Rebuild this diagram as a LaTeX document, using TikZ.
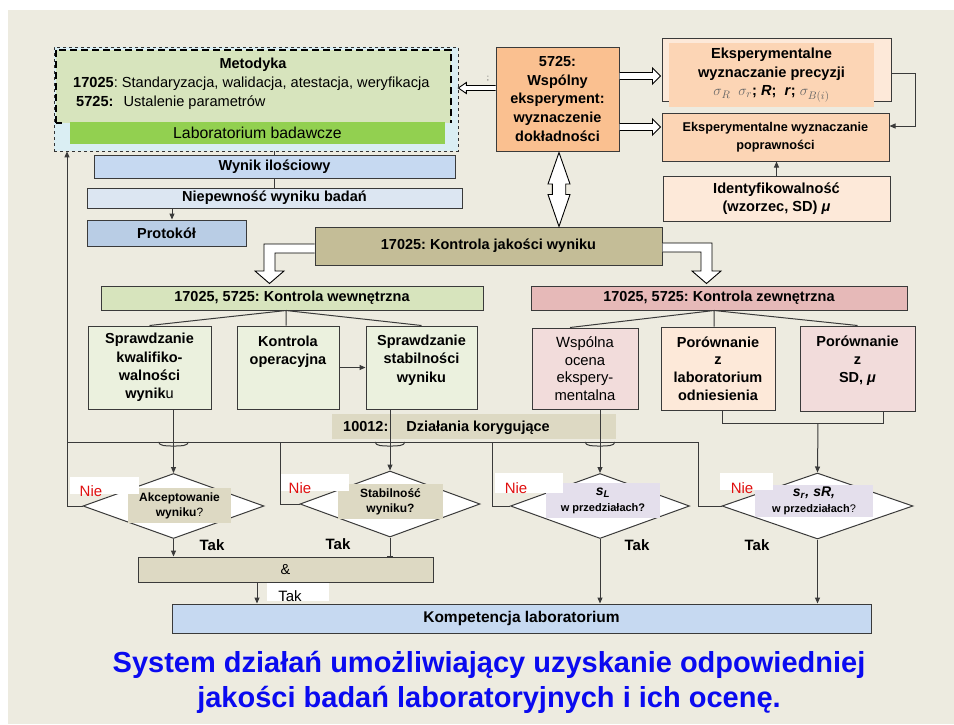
\documentclass[tikz,border=0pt]{standalone}
\usepackage{fontspec}
\setmainfont{Liberation Sans}
\frenchspacing
\usetikzlibrary{shapes.geometric,arrows.meta,calc}
\definecolor{bgc}{HTML}{EDEBE0}
\definecolor{bordc}{HTML}{3A3A3A}
\definecolor{metblue}{HTML}{DAEEF3}
\definecolor{metgreen}{HTML}{D7E4BD}
\definecolor{labgreen}{HTML}{92D050}
\definecolor{wynblue}{HTML}{C6D9F1}
\definecolor{niepblue}{HTML}{DCE6F2}
\definecolor{protblue}{HTML}{B9CDE5}
\definecolor{orng}{HTML}{FAC090}
\definecolor{peach}{HTML}{FCD5B5}
\definecolor{lpeach}{HTML}{FDE9D9}
\definecolor{tanb}{HTML}{C4BD97}
\definecolor{lgreen}{HTML}{EBF1DE}
\definecolor{pinkb}{HTML}{E6B9B8}
\definecolor{lpink}{HTML}{F2DCDB}
\definecolor{grayl}{HTML}{DDD9C3}
\definecolor{lav}{HTML}{E4DFEC}
\definecolor{titleblue}{HTML}{0A0AF0}
\definecolor{niered}{HTML}{E01010}
\begin{document}
\frenchspacing
\begin{tikzpicture}[x=1pt,y=-1pt,
  bx/.style={draw=bordc,line width=1pt,inner sep=0pt,align=center},
  txt/.style={inner sep=0pt,align=center},
  bbig/.style={font=\fontsize{14.5}{18}\selectfont\bfseries},
  rbig/.style={font=\fontsize{14.5}{18}\selectfont},
  conn/.style={draw=bordc,line width=1pt},
  arr/.style={conn,-{Triangle[length=6pt,width=5pt]}},
  hollow/.style={draw=black,line width=0.9pt,fill=white,line join=miter},
  dia/.style={diamond,draw=bordc,line width=1pt,fill=white,inner sep=0pt},
  niebox/.style={txt,fill=white},
  nietxt/.style={txt,text=niered,font=\fontsize{15}{17}\selectfont},
]
\useasboundingbox (0,0) rectangle (954,724);
\fill[white] (0,0) rectangle (954,724);
\fill[bgc] (8,10) rectangle (954,724);

% helper coordinates
\coordinate (y88) at (0,88);
\coordinate (y76) at (0,76);
\coordinate (y127) at (0,127);
\coordinate (y73) at (0,73);
\coordinate (y126) at (0,126);
\coordinate (y244) at (0,244);
\coordinate (y253) at (0,253);
\coordinate (y243) at (0,243);
\coordinate (y252) at (0,252);
\coordinate (y423) at (0,423);
\coordinate (x172) at (172,0);
\coordinate (x257) at (257,0);
\coordinate (x559) at (559,0);
\coordinate (x915) at (915,0);
\coordinate (kwx) at (286,0);
\coordinate (kzx) at (714,0);
\coordinate (x570) at (570,0);
\coordinate (x722) at (722,0);
\coordinate (x883) at (883,0);
\coordinate (x818) at (818,0);
\coordinate (hl) at (67,442);
\coordinate (hr) at (698,442);
\coordinate (c2) at (280,442);
\coordinate (c3) at (492,442);

% Metodyka
\node[bx,draw=black!80,dashed,line width=0.7pt,fill=metblue,minimum width=404pt,minimum height=104pt] (metout) at (256,99) {};
\node[txt,fill=metgreen,minimum width=395pt,minimum height=73pt] (metin) at (253.5,86.5) {};
\draw[line width=1.6pt,dash pattern=on 7pt off 4pt] (metin.south west) -- (metin.north west) -- (metin.north east) -- (metin.south east);
\draw[line width=1.6pt] (metin.south west) -- ++(6,0);
\node[txt,fill=labgreen,minimum width=375pt,minimum height=22pt,font=\fontsize{15.8}{17}\selectfont] (lab) at (257.5,133) {\raisebox{-3pt}{Laboratorium badawcze}};
\node[txt,font=\fontsize{14.5}{16}\selectfont\bfseries] (mt) at (253,65) {Metodyka};
\node[txt,font=\fontsize{14.6}{16}\selectfont,anchor=west] (ml1) at (73,84) {\textbf{17025}: Standaryzacja, walidacja, atestacja, weryfikacja};
\node[txt,font=\fontsize{14.6}{16}\selectfont,anchor=west] (ml2) at (76,103) {\textbf{5725:}\hspace{10pt}Ustalenie parametrów};

\node[bx,fill=wynblue,minimum width=361pt,minimum height=23pt,bbig] (wyn) at (274.5,166.5) {Wynik ilościowy};
\node[bx,fill=niepblue,minimum width=375pt,minimum height=20pt,bbig] (niep) at (274.5,198) {\raisebox{-4pt}{Niepewność wyniku badań}};
\node[bx,fill=protblue,minimum width=159pt,minimum height=26pt,bbig] (prot) at (166.5,233) {Protokół};

% 5725 block
\node[bx,fill=orng,minimum width=123pt,minimum height=104pt,font=\fontsize{14.5}{18.8}\selectfont\bfseries] (w5725) at (557.5,99) {5725:\\Wspólny\\eksperyment:\\wyznaczenie\\dokładności};
\node[bx,fill=lpeach,minimum width=229pt,minimum height=63pt] (precout) at (776.5,69.5) {};
\node[txt,fill=peach,minimum width=205pt,minimum height=64pt,font=\fontsize{14.6}{18.5}\selectfont\bfseries] (prec) at (771.5,75) {Eksperymentalne\\wyznaczanie precyzji\\{\fontsize{15}{18}\selectfont\color{black!60}$\sigma_R\;\;\sigma_r$}; \textit{R};\ \ \textit{r}; {\fontsize{15}{18}\selectfont\color{black!60}$\sigma_{B(i)}$}};
\node[bx,fill=peach,minimum width=227pt,minimum height=48pt,font=\fontsize{12.7}{18}\selectfont\bfseries] (popr) at (775.5,137) {Eksperymentalne wyznaczanie\\poprawności};
\node[bx,fill=lpeach,minimum width=227pt,minimum height=45pt,font=\fontsize{14.6}{18}\selectfont\bfseries] (ident) at (776.5,198.5) {Identyfikowalność\\(wzorzec, SD) \textit{μ}};
\node[txt,font=\fontsize{8}{8}\selectfont,text=black!70] (semi) at (488,79) {;};

% Kontrola
\node[bx,fill=tanb,minimum width=347pt,minimum height=38pt,bbig] (kjak) at (488.5,246) {\raisebox{3pt}{17025: Kontrola jakości wyniku}};
\node[bx,fill=metgreen,minimum width=382pt,minimum height=24pt,bbig] (kwew) at (292,298) {17025, 5725: Kontrola wewnętrzna};
\node[bx,fill=pinkb,minimum width=376pt,minimum height=24pt,bbig] (kzew) at (719,298) {17025, 5725: Kontrola zewnętrzna};

\node[bx,fill=lgreen,minimum width=123pt,minimum height=83pt,font=\fontsize{14.5}{18.3}\selectfont\bfseries] (spr1) at (149.5,367.5) {Sprawdzanie\\kwalifiko-\\walności\\wynik{\mdseries u}};
\node[bx,fill=lgreen,minimum width=102pt,minimum height=83pt,font=\fontsize{14.5}{17.5}\selectfont\bfseries] (kop) at (288,367.5) {Kontrola\\operacyjna\\\mbox{}\\\mbox{}};
\node[bx,fill=lgreen,minimum width=111pt,minimum height=83pt,font=\fontsize{14.5}{18.5}\selectfont\bfseries] (spr2) at (421.5,367.5) {Sprawdzanie\\stabilności\\wyniku\\\mbox{}};
\node[bx,fill=lpink,minimum width=106pt,minimum height=81pt,font=\fontsize{14.8}{17.7}\selectfont] (wsp) at (585,368.5) {Wspólna\\ocena\\ekspery-\\mentalna};
\node[bx,fill=lpeach,minimum width=114pt,minimum height=83pt,font=\fontsize{14.5}{17.7}\selectfont\bfseries] (plab) at (718,368.5) {Porównanie\\z\\laboratorium\\odniesienia};
\node[bx,fill=lpink,minimum width=115pt,minimum height=85pt,font=\fontsize{14.5}{18}\selectfont\bfseries] (psd) at (857.5,368.5) {Porównanie\\z\\SD, \textit{μ}\\\mbox{}};

\node[txt,fill=grayl,minimum width=284pt,minimum height=25pt] (dzial) at (474,426.5) {};
\node[txt,bbig,anchor=west] (dzt) at (343,428) {10012:\hspace{18pt}Działania korygujące};

% diamonds
\node[dia,minimum width=181pt,minimum height=65pt] (d1) at (173.5,506) {};
\node[dia,minimum width=180pt,minimum height=66pt] (d2) at (390,504) {};
\node[dia,minimum width=179pt,minimum height=65pt] (d3) at (600,506) {};
\node[dia,minimum width=191pt,minimum height=66pt] (d4) at (817.5,506) {};

\node[txt,fill=grayl,minimum width=103pt,minimum height=35pt,font=\fontsize{12}{15}\selectfont] (q1) at (179.5,505.5) {\textbf{Akceptowanie}\\\textbf{wyniku}?};
\node[txt,fill=grayl,minimum width=105pt,minimum height=35pt,font=\fontsize{12}{15}\selectfont\bfseries] (q2) at (390.5,501.5) {Stabilność\\wyniku?};
\node[txt,fill=lav,minimum width=114pt,minimum height=35pt,font=\fontsize{11}{16}\selectfont\bfseries] (q3) at (603,500.5) {{\fontsize{14}{15}\selectfont\textit{s}\textsubscript{\textit{L}}}\\w przedziałach?};
\node[txt,fill=lav,minimum width=118pt,minimum height=32pt,font=\fontsize{11}{16}\selectfont\bfseries] (q4) at (814,501) {{\fontsize{14}{15}\selectfont\textit{s}\textsubscript{\textit{r}}\textit{, sR,}}\\w przedziałach{\mdseries ?}};

\node[niebox,minimum width=69pt,minimum height=17pt] (nw1) at (104.5,485.5) {};
\node[nietxt] (nie1) at (91,491) {Nie};
\node[niebox,minimum width=69pt,minimum height=17pt] (nw2) at (314.5,482.5) {};
\node[nietxt] (nie2) at (300,488) {Nie};
\node[niebox,minimum width=68pt,minimum height=20pt] (nw3) at (529,483) {};
\node[nietxt] (nie3) at (516,488) {Nie};
\node[niebox,minimum width=53pt,minimum height=17pt] (nw4) at (746.5,481.5) {};
\node[nietxt] (nie4) at (742,488) {Nie};

\node[txt,font=\fontsize{15}{17}\selectfont\bfseries] (tak1) at (212,545) {Tak};
\node[txt,font=\fontsize{15}{17}\selectfont\bfseries] (tak2) at (338,544) {Tak};
\node[txt,font=\fontsize{15}{17}\selectfont\bfseries] (tak3) at (637,545) {Tak};
\node[txt,font=\fontsize{15}{17}\selectfont\bfseries] (tak4) at (757,545) {Tak};

\node[bx,fill=grayl,minimum width=295pt,minimum height=25pt,rbig] (andb) at (285.5,569.5) {\raisebox{-3.5pt}{\&}};
\node[niebox,minimum width=62pt,minimum height=18pt] (takw) at (298,592) {};
\node[txt,font=\fontsize{15}{17}\selectfont] (tak5) at (290,596) {Tak};
\node[bx,fill=wynblue,minimum width=699pt,minimum height=29pt,font=\fontsize{15.5}{18}\selectfont\bfseries] (komp) at (521.5,618.5) {Kompetencja laboratorium};

% connectors top
\draw[conn] (metout.south -| wyn.north) -- (wyn.north);
\draw[conn] (wyn.south) -- (wyn.south |- niep.north);
\draw[arr] (niep.south -| x172) -- (prot.north -| x172);
\draw[arr] (precout.east |- y73) -- (x915 |- y73) -- (x915 |- y126) -- (popr.east |- y126);
\draw[arr] (ident.north) -- (ident.north |- popr.south);

% hollow arrows
\draw[hollow] ($(w5725.west |- y88)+(0,-2.5)$) -- ($(metout.east |- y88)+(8,-2.5)$) -- ($(metout.east |- y88)+(8,-5.5)$) -- (metout.east |- y88) -- ($(metout.east |- y88)+(8,5.5)$) -- ($(metout.east |- y88)+(8,2.5)$) -- ($(w5725.west |- y88)+(0,2.5)$);
\draw[hollow] ($(w5725.east |- y76)+(0,-3.5)$) -- ($(precout.west |- y76)+(-9,-3.5)$) -- ($(precout.west |- y76)+(-9,-8)$) -- ($(precout.west |- y76)+(-1,0)$) -- ($(precout.west |- y76)+(-9,8)$) -- ($(precout.west |- y76)+(-9,3.5)$) -- ($(w5725.east |- y76)+(0,3.5)$);
\draw[hollow] ($(w5725.east |- y127)+(0,-3.5)$) -- ($(popr.west |- y127)+(-9,-3.5)$) -- ($(popr.west |- y127)+(-9,-8)$) -- ($(popr.west |- y127)+(-1,0)$) -- ($(popr.west |- y127)+(-9,8)$) -- ($(popr.west |- y127)+(-9,3.5)$) -- ($(w5725.east |- y127)+(0,3.5)$);
\draw[hollow] ($(w5725.south -| x559)+(0,1)$) -- ($(w5725.south -| x559)+(11,32.5)$) -- ($(w5725.south -| x559)+(6.7,32.5)$) -- ($(kjak.north -| x559)+(6.7,-32)$) -- ($(kjak.north -| x559)+(11,-32)$) -- (kjak.north -| x559) -- ($(kjak.north -| x559)+(-11,-32)$) -- ($(kjak.north -| x559)+(-6.7,-32)$) -- ($(w5725.south -| x559)+(-6.7,32.5)$) -- ($(w5725.south -| x559)+(-11,32.5)$) -- cycle;
\draw[hollow] (kjak.west |- y244) -- (264,244) -- (264,271) -- (255,271) -- ($(kwew.north -| 269.5,0)+(0,-2)$) -- (284,271) -- (275,271) -- (275,253) -- (kjak.west |- y253);
\draw[hollow] (kjak.east |- y243) -- (712,243) -- (712,271) -- (721,271) -- ($(kzew.north -| 706.5,0)+(0,-2)$) -- (692,271) -- (701,271) -- (701,252) -- (kjak.east |- y252);

% branches
\draw[conn] (spr1.north) -- (kwew.south -| kwx) -- (kwx |- kop.north);
\draw[conn] (kwew.south -| kwx) -- (spr2.north);
\draw[conn] (wsp.north -| x570) -- (kzew.south -| kzx) -- (kzx |- plab.north);
\draw[conn] (kzew.south -| kzx) -- (psd.north);
\draw[arr] (kop.east) -- (spr2.west);
\draw[conn] (plab.south -| x722) -- (x722 |- y423) -- (x883 |- y423) -- (psd.south -| x883);

% corrective loop
\draw[conn] (hl) -- (hr) |- (d4.west);
\draw[arr] (d1.west) -| (metout.south -| hl);
\draw[conn] (d2.west) -| (c2);
\draw[conn] (d3.west) -| (c3);
\foreach \d in {d1,d2,d3}{
  \draw[conn] ($(\d.north |- hl)+(-15,0)$) .. controls ($(\d.north |- hl)+(-14,4)$) and ($(\d.north |- hl)+(-8,4)$) .. ($(\d.north |- hl)+(0,4)$) .. controls ($(\d.north |- hl)+(8,4)$) and ($(\d.north |- hl)+(14,4)$) .. ($(\d.north |- hl)+(15,0)$);
}
\draw[arr] (spr1.south -| d1.north) -- (d1.north);
\draw[arr] (spr2.south -| d2.north) -- (d2.north);
\draw[arr] (wsp.south -| d3.north) -- (d3.north);
\draw[arr] (x818 |- y423) -- (d4.north);

% bottom
\draw[arr] (d1.south) -- (d1.south |- andb.north);
\draw[conn,-{Bar[width=6pt]}] (d2.south) -- (d2.south |- andb.north);
\draw[arr] (andb.south -| x257) -- (komp.north -| x257);
\draw[arr] (d3.south) -- (d3.south |- komp.north);
\draw[arr] (d4.south) -- (d4.south |- komp.north);

% title
\node[txt,text=titleblue,font=\fontsize{29}{35}\selectfont\bfseries] (title) at (489,682) {System działań umożliwiający uzyskanie odpowiedniej\\jakości badań laboratoryjnych i ich ocenę.};
\end{tikzpicture}
\end{document}
